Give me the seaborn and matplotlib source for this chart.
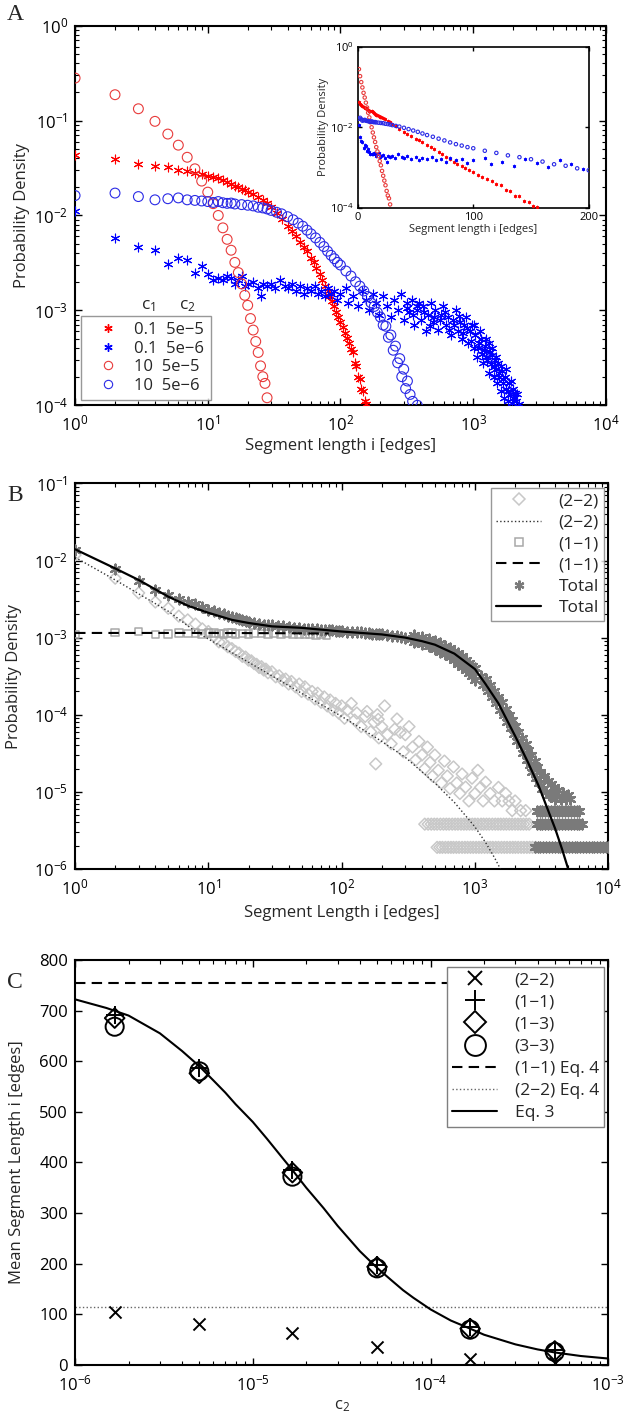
import numpy as np
import pandas as pd
import matplotlib as mpl
import matplotlib.pyplot as plt
from matplotlib.lines import Line2D
from matplotlib.ticker import NullLocator
import seaborn as sns

# ---------------- panel A : segment length distributions ----------------
a_legend_c1 = ['0.1', '0.1', '10', '10']
a_legend_c2 = ['5e\u22125', '5e\u22126', '5e\u22125', '5e\u22126']

# c1 = 0.1, c2 = 5e-5 (red asterisks)
a_rs_i = [1, 2, 3, 4, 5, 6, 7, 8, 9, 10, 11, 12, 13, 14, 15, 16, 17, 18, 19, 20,
          22, 24, 26, 28, 30, 33, 36, 40, 43, 46, 50, 53, 56, 60, 63, 66, 70, 73, 76, 80,
          83, 86, 90, 93, 96, 100, 104, 108, 112, 116, 120, 124, 128, 132, 136, 140, 144, 148, 152, 155]
a_rs_p = [0.043, 0.039, 0.035, 0.033, 0.032, 0.030, 0.0295, 0.028, 0.027, 0.026, 0.0255, 0.0247, 0.0236,
          0.0225, 0.0215, 0.0206, 0.0198, 0.019, 0.0184, 0.0178,
          0.0168, 0.0158, 0.0146, 0.0134, 0.0122, 0.0106, 0.0092, 0.0078, 0.0069, 0.0061, 0.0052, 0.0047,
          0.0042, 0.0036, 0.0032, 0.0028, 0.0024, 0.0021, 0.0018, 0.0016,
          0.0014, 0.00125, 0.0011, 0.00097, 0.00086, 0.00076, 0.00066, 0.00058, 0.00051, 0.00045,
          0.00039, 0.00036, 0.00028, 0.00026, 0.0002, 0.00019, 0.00015, 0.00014, 0.00011, 0.000102]

# c1 = 0.1, c2 = 5e-6 (blue asterisks)
a_bs_i = [1, 2, 3, 4, 5, 6, 7, 8, 9, 10, 11, 12, 13, 14, 15, 16, 17, 18, 19, 20,
          22, 24, 25, 26, 28, 30, 32, 35, 38, 40, 43, 46, 50, 53, 56, 60, 64, 68, 72, 76, 80,
          85, 90, 95, 100,
          110, 115, 125, 135, 145, 155, 165, 175, 185, 195, 210, 225, 240, 255, 270, 285, 300, 315, 330, 345,
          360, 375, 390, 405, 420, 440, 460, 480, 500, 520, 545, 570, 595, 620, 650, 680, 710, 740, 770, 800,
          830, 860, 890, 920, 950, 980, 1010, 1040, 1070, 1100, 1130, 1160, 1190, 1220, 1250, 1280, 1310,
          1340, 1370, 1400, 1430, 1460, 1490, 1520, 1550, 1580, 1610, 1640, 1670, 1700,
          1740, 1780, 1820, 1860, 1900, 1950, 2000, 2050, 2100, 2150, 2200,
          320, 350, 380, 430, 470, 510, 560, 610, 660, 720, 780, 840, 900, 960, 1020, 1080, 1140, 1200,
          1260, 1320, 1380, 1440, 1500, 1560, 1620, 1680, 1760, 1840, 1920, 2000, 2080]
a_bs_p = [0.0111, 0.0058, 0.0046, 0.0043, 0.0031, 0.0036, 0.0034, 0.0025, 0.0029, 0.0024, 0.0021, 0.0022,
          0.0021, 0.0023, 0.0022, 0.0019, 0.0021, 0.0023, 0.0018, 0.0019,
          0.0020, 0.0017, 0.0014, 0.0019, 0.0018, 0.0019, 0.0017, 0.0021, 0.0018, 0.0017,
          0.0019, 0.0016, 0.0018, 0.0015, 0.0017, 0.0016, 0.0018, 0.0015, 0.0016, 0.0014, 0.0017,
          0.0015, 0.0016, 0.0013, 0.0015,
          0.0017, 0.0012, 0.0014, 0.0011, 0.0016, 0.0013, 0.0010, 0.0015, 0.0012, 0.0009,
          0.0014, 0.0011, 0.00085, 0.0013, 0.0010, 0.0015, 0.0008, 0.0012, 0.00095, 0.0013,
          0.0007, 0.0010, 0.0012, 0.0008, 0.0011, 0.0006, 0.0009, 0.0012, 0.00075, 0.0010,
          0.00062, 0.0009, 0.0011, 0.0007, 0.00085, 0.00055, 0.0008, 0.0010, 0.0006, 0.00075,
          0.0005, 0.0007, 0.00085, 0.00045, 0.0006, 0.0007, 0.0004, 0.00055, 0.00032, 0.00045,
          0.0006, 0.00035, 0.00028, 0.00042, 0.0005, 0.0003, 0.00022, 0.00036, 0.00027, 0.0004,
          0.0002, 0.0003, 0.00024, 0.00017, 0.00028, 0.0002, 0.00014, 0.00023, 0.00017, 0.00012,
          0.0002, 0.00015, 0.00011, 0.00017, 0.00013, 0.000105, 0.00015, 0.00012, 0.00011, 0.00013, 0.000102,
          0.00105, 0.0009, 0.0011, 0.00095, 0.00068, 0.00085, 0.0008, 0.00095, 0.00062, 0.0007,
          0.00088, 0.00058, 0.00065, 0.00048, 0.0007, 0.0004, 0.0005, 0.00038, 0.00032, 0.00045,
          0.00034, 0.00025, 0.00032, 0.00022, 0.00026, 0.00019, 0.00024, 0.00014, 0.00018, 0.00012, 0.000135]

# c1 = 10, c2 = 5e-5 (red circles)
a_rc_i = list(range(1, 29))
a_rc_p = [0.28, 0.187, 0.133, 0.098, 0.072, 0.055, 0.041, 0.031, 0.023, 0.0176, 0.0133, 0.0100, 0.0074,
          0.0056, 0.0043, 0.0032, 0.0025, 0.0019, 0.00144, 0.00113, 0.00082, 0.00062, 0.00047, 0.00036,
          0.00026, 0.0002, 0.00017, 0.00012]

# c1 = 10, c2 = 5e-6 (blue circles)
a_bc_i = [1, 2, 3, 4, 5, 6, 7, 8, 9, 10, 11, 12, 13, 14, 15, 16, 18, 20, 22, 24, 26, 28, 30,
          33, 36, 40, 44, 48, 52, 56, 60, 65, 70, 75, 80, 85, 90, 95, 100,
          110, 120, 130, 140, 150, 160, 170, 180, 190, 200, 210, 220, 230, 240, 250, 260, 270, 280, 290,
          300, 310, 320, 335, 350, 380]
a_bc_p = [0.0162, 0.0172, 0.0158, 0.0146, 0.0150, 0.0153, 0.0146, 0.0144, 0.0142, 0.0140, 0.0137, 0.0140,
          0.0136, 0.0134, 0.0135, 0.0132, 0.0130, 0.0128, 0.0126, 0.0122, 0.0120, 0.0117, 0.0113,
          0.0108, 0.0104, 0.0097, 0.0090, 0.0083, 0.0077, 0.0070, 0.0064, 0.0058, 0.0052, 0.0047, 0.0042,
          0.0038, 0.0035, 0.0032, 0.0030,
          0.0026, 0.0023, 0.0020, 0.0018, 0.0016, 0.0014, 0.0012, 0.0011, 0.00095, 0.00085,
          0.0007, 0.00068, 0.00052, 0.00055, 0.00038, 0.00042, 0.00028, 0.00031, 0.0002, 0.00024,
          0.00015, 0.00018, 0.00013, 0.00011, 0.0001]

# ---------------- panel B : (2-2), (1-1) and total ----------------
b_dm_i = [1, 2, 3, 4, 5, 6, 7, 8, 9, 10, 11, 12, 13, 14, 15, 16, 17, 18, 19, 20, 21, 22, 23, 24, 25, 26,
          27, 28, 30, 32, 34, 36, 38, 40, 42, 45, 48, 50, 53, 56, 60, 63, 66, 70, 74, 78, 82, 86,
          90, 95, 100, 105, 110, 118, 125, 130, 140, 150, 155, 165, 175, 180, 185, 188, 190, 200, 210, 220,
          235, 250, 260, 275, 290, 300, 320, 340, 360, 380, 400, 420, 440, 460, 480, 500, 530, 560, 590, 620,
          650, 690, 730, 770, 800, 850, 900, 950, 1000, 1050, 1100, 1150, 1200, 1300, 1400, 1500, 1600,
          1700, 1800, 1900, 2000, 2200, 2400]
b_dm_p = [0.0118, 0.0059, 0.0038, 0.0029, 0.0024, 0.0019, 0.0017, 0.0015, 0.0013, 0.0012,
          0.00105, 0.00088, 0.00085, 0.00076, 0.00072, 0.00066, 0.00063, 0.00057, 0.00056, 0.00051,
          0.0005, 0.00046, 0.00045, 0.00041, 0.00042, 0.00038, 0.00039, 0.00035,
          0.00036, 0.00031, 0.00032, 0.00028, 0.00029, 0.00025, 0.00027, 0.00023, 0.00025, 0.0002,
          0.00023, 0.000185, 0.0002, 0.00016, 0.00019, 0.000145, 0.00017, 0.00013, 0.000155, 0.000115,
          0.00014, 0.000105, 0.00013, 0.00009, 0.000115, 0.00014, 0.000085, 0.000105, 0.00007, 0.000095,
          0.00011, 0.00006, 0.00008, 0.000023, 0.0001, 0.000087, 0.00005, 0.00007, 0.00013, 0.000055,
          0.000042, 0.000065, 0.000088, 0.000059, 0.000033, 0.000055, 0.00007, 0.000038, 0.000026, 0.000045,
          0.00003, 0.00002, 0.000038, 0.000024, 0.000016, 0.00003, 0.000019, 0.000013, 0.000025, 0.000016,
          0.000011, 0.000021, 0.000013, 0.0000095, 0.000017, 0.0000115, 0.0000076, 0.000015, 0.0000095,
          0.000019, 0.0000114, 0.0000076, 0.0000133, 0.0000095, 0.0000076, 0.0000114, 0.0000076,
          0.0000095, 0.0000076, 0.0000057, 0.0000076, 0.0000057, 0.0000057]

# single / double / triple count floors
b_floor_p = [1.9e-6, 3.8e-6, 5.7e-6]
b_dm_floor1_i = [520, 545, 570, 600, 630, 660, 690, 725, 760, 800, 840, 880, 925, 970, 1020, 1070, 1120,
                 1180, 1240, 1300, 1360, 1430, 1500, 1580, 1660, 1740, 1830, 1920, 2010, 2110, 2220, 2330,
                 2450, 2570, 2700, 2850]
b_dm_floor2_i = [420, 445, 470, 495, 520, 550, 580, 610, 640, 675, 710, 745, 785, 825, 865, 910, 955, 1000,
                 1050, 1110, 1160, 1220, 1280, 1350, 1420, 1490, 1560, 1640, 1720, 1810, 1900, 2000, 2100,
                 2200, 2310, 2430, 2550]

b_sq_i = [1, 2, 3, 4, 5, 6, 7, 8, 9, 10, 11, 12, 13, 14, 15, 16, 18, 20, 22, 25, 28, 31, 35, 39, 43,
          48, 53, 58, 64, 70, 77]
b_sq_p = [0.0011, 0.00116, 0.0012, 0.0011, 0.00112, 0.00114, 0.00113, 0.00114, 0.00112, 0.00115,
          0.00114, 0.00113, 0.00112, 0.00115, 0.00114, 0.00112, 0.00113, 0.00112, 0.00115, 0.00113,
          0.00112, 0.00114, 0.00111, 0.00113, 0.0011, 0.00112, 0.0011, 0.00111, 0.00109, 0.0011, 0.00108]

b_tot_i = [1, 2, 3, 4, 5, 6, 7, 8, 9, 10, 11, 12, 13, 14, 15, 16, 17, 18, 19, 20, 22, 24, 26, 28, 30,
           33, 36, 40, 44, 48, 52, 56, 60, 65, 70, 75, 80, 85, 90, 95, 100, 110, 120, 130, 140, 150,
           160, 170, 180, 190, 200, 220, 240, 260, 280, 300, 330, 360, 400, 440, 480, 520, 560, 600,
           650, 700, 750, 800, 850, 900, 950,
           350, 400, 450, 500, 550, 600, 650, 700, 750, 800, 850, 900, 950,
           350, 400, 450, 500, 550, 600, 650, 700, 750, 800, 850, 900, 950,
           1000, 1000, 1100, 1150, 1200, 1250, 1300, 1350, 1400, 1450, 1500, 1550, 1600, 1650, 1700, 1750,
           1800, 1850, 1900, 1950, 2000, 2050, 2100, 2200, 2250, 2300, 2400, 2450, 2500, 2600, 2650, 2700,
           2800, 2850, 2900, 3000, 3100, 3200, 3300, 3400, 3500, 3600, 3700, 3800, 3900, 4000, 4200, 4400,
           4600, 4800, 5000, 5200]
b_tot_p = [0.0138, 0.0077, 0.0054, 0.0042, 0.0036, 0.0032, 0.0029, 0.0027, 0.0025, 0.0023, 0.0022, 0.0021,
           0.002, 0.0019, 0.00185, 0.0018, 0.00175, 0.0017, 0.00165, 0.0016, 0.00155, 0.0015, 0.00148,
           0.00146, 0.00144, 0.00142, 0.0014, 0.00137, 0.00135, 0.00133, 0.00131, 0.0013, 0.00129, 0.00128,
           0.00127, 0.00126, 0.00125, 0.00124, 0.00123, 0.00122, 0.00122, 0.0012, 0.00119, 0.00118, 0.00117,
           0.00115, 0.00114, 0.00113, 0.00112, 0.00111, 0.0011, 0.00108, 0.00106, 0.00104, 0.00102, 0.001,
           0.00097, 0.00094, 0.0009, 0.00085, 0.0008, 0.00075, 0.0007, 0.00066, 0.00062, 0.00058, 0.00053,
           0.00048, 0.00044, 0.0004, 0.00037,
           0.00107, 0.00102, 0.00097, 0.00091, 0.00085, 0.00079, 0.00073, 0.00068, 0.00063, 0.00057, 0.00052,
           0.00047, 0.00043,
           0.00087, 0.00082, 0.00077, 0.00071, 0.00066, 0.00061, 0.00056, 0.00051, 0.00046, 0.00042, 0.00038,
           0.00035, 0.00032,
           4.0e-4, 2.8e-4, 3.2e-4, 2.4e-4, 2.9e-4, 2.0e-4, 2.4e-4, 1.7e-4, 2.0e-4, 1.4e-4, 1.7e-4, 1.15e-4,
           1.45e-4, 1.0e-4, 1.2e-4, 8e-5, 1.0e-4, 6.8e-5, 8.5e-5, 5.6e-5, 7.2e-5, 4.6e-5, 6.0e-5, 4.0e-5,
           5.0e-5, 3.2e-5, 4.2e-5, 2.6e-5, 3.5e-5, 2.2e-5, 3.0e-5, 1.8e-5, 2.5e-5, 1.5e-5, 2.1e-5, 1.3e-5,
           1.8e-5, 1.1e-5, 1.6e-5, 1.0e-5, 1.4e-5, 9e-6, 1.25e-5, 9e-6, 1.15e-5, 8e-6, 1.05e-5, 8e-6,
           9.5e-6, 8e-6, 9e-6, 8e-6]
b_tot_floor1_i = [2800, 2950, 3100, 3260, 3430, 3600, 3780, 3970, 4170, 4380, 4600, 4830, 5070, 5320, 5590,
                  5870, 6160, 6470, 6790, 7130, 7490, 7860, 8250, 8670, 9100, 9550, 10000]
b_tot_floor2_i = [2900, 3050, 3200, 3360, 3530, 3710, 3900, 4100, 4300, 4520, 4750, 4990, 5240, 5500, 5780,
                  6070, 6400]
b_tot_floor3_i = [2900, 3050, 3200, 3360, 3530, 3710, 3900, 4100, 4300, 4520, 4750, 4990, 5240, 5500, 5780,
                  6000]

# model curves
b_fit22_i = [1, 2, 3, 5, 8, 10, 20, 50, 100, 200, 300, 500, 700, 1000, 1200, 1400, 1550]
b_fit22_p = [0.011, 0.0056, 0.0037, 0.0022, 1.2e-3, 9.6e-4, 4.8e-4, 1.9e-4, 9.5e-5, 4.5e-5, 2.8e-5, 1.3e-5,
             7.3e-6, 3.5e-6, 2.2e-6, 1.4e-6, 1.0e-6]
b_fit11_i = [1, 10, 40, 80]
b_fit11_p = [1.15e-3, 1.15e-3, 1.14e-3, 1.13e-3]
b_fittot_i = [1, 2, 3, 5, 7, 10, 15, 20, 30, 50, 100, 200, 300, 400, 500, 700, 1000, 1200, 1500, 2000, 2500,
              3000, 3500, 4000, 4500, 5000]
b_fittot_p = [0.014, 0.0079, 0.0056, 0.0034, 0.0026, 0.0021, 0.0017, 0.00155, 0.0014, 0.00134, 0.0012, 0.0011,
              0.001, 0.0009, 0.00081, 0.00062, 0.00039, 0.00025, 0.00014, 5.3e-5, 2.4e-5, 1.2e-5, 6e-6, 3.3e-6,
              1.8e-6, 1e-6]
b_labels = ['(2\u22122)', '(2\u22122)', '(1\u22121)', '(1\u22121)', 'Total', 'Total']

# ---------------- panel C : mean segment length vs c2 ----------------
c_c2 = [1.67e-6, 5e-6, 1.67e-5, 5e-5, 1.67e-4, 5e-4]
c_mean_22 = [105, 82, 64, 36, 13, 5]
c_mean_11 = [691, 586, 385, 197, 76, 30]
c_mean_13 = [685, 576, 380, 194, 72, 28]
c_mean_33 = [668, 580, 372, 191, 70, 26]
c_eq4_11 = 755
c_eq4_22 = 115
c_eq3_c2 = [1e-6, 1.5e-6, 2e-6, 3e-6, 4e-6, 5e-6, 6e-6, 7e-6, 8e-6, 1e-5, 1.2e-5, 1.5e-5, 1.67e-5, 2e-5,
            2.5e-5, 3e-5, 4e-5, 5e-5, 6e-5, 7e-5, 8e-5, 1e-4, 1.3e-4, 1.67e-4, 2e-4, 3e-4, 4e-4, 5e-4,
            7e-4, 1e-3]
c_eq3_mean = [722, 705, 690, 655, 620, 590, 562, 538, 515, 480, 447, 405, 385, 350, 310, 275, 225, 192, 168,
              148, 133, 110, 88, 72, 60, 41, 31, 25, 18, 13]
c_labels = ['(2\u22122)', '(1\u22121)', '(1\u22123)', '(3\u22123)', '(1\u22121) Eq. 4', '(2\u22122) Eq. 4', 'Eq. 3']

STAR = (6, 2, 0)

sns.set_style("ticks")
plt.rcParams['font.family'] = ['Open Sans', 'DejaVu Sans']
plt.rcParams['mathtext.default'] = 'regular'


def matlab_box(ax, size=12):
    ax.tick_params(which='both', direction='in', top=True, right=True, labelsize=size, colors='k')
    ax.tick_params(which='major', length=5, width=1.0)
    ax.tick_params(which='minor', length=3, width=0.8)
    ax.tick_params(axis='x', which='both', pad=7)
    ax.tick_params(axis='y', which='both', pad=5)
    for s in ax.spines.values():
        s.set_visible(True)
        s.set_linewidth(1.5)
        s.set_color('k')


def stars(ax, x, y, color, s, lw):
    sns.scatterplot(x=x, y=y, ax=ax, marker=STAR, s=s, color=color, edgecolor=None,
                    linewidth=lw, legend=False, zorder=3)


def rings(ax, x, y, color, s, lw, marker='o'):
    sns.scatterplot(x=x, y=y, ax=ax, marker=marker, s=s, color=color, facecolor='none',
                    edgecolor=color, linewidth=lw, legend=False, zorder=3)


def draw_a(ax, k):
    stars(ax, a_rs_i, a_rs_p, '#ff0000', 40 * k, 0.8 * max(k, 0.6))
    stars(ax, a_bs_i, a_bs_p, '#0000ff', 40 * k, 0.8 * max(k, 0.6))
    rings(ax, a_rc_i, a_rc_p, '#e83a3a', 50 * k, 0.8)
    rings(ax, a_bc_i, a_bc_p, '#2a2ae6', 50 * k, 0.8)


fig = plt.figure(figsize=(6.31, 14.22), dpi=100)

# ---- A ----
axA = fig.add_axes([0.119, 0.715, 0.841, 0.267])
axA.set_xscale('log')
axA.set_yscale('log')
draw_a(axA, 1.0)
axA.set_xlim(1, 1e4)
axA.set_ylim(1e-4, 1)
matlab_box(axA)
axA.set_xlabel('Segment length i [edges]', fontsize=12)
axA.set_ylabel('Probability Density', fontsize=12)
axA.xaxis.set_label_coords(0.5, -0.085)
axA.yaxis.set_label_coords(-0.085, 0.5)
hA = [Line2D([], [], ls='none', marker=STAR, color='#ff0000', ms=6, mew=1),
      Line2D([], [], ls='none', marker=STAR, color='#0000ff', ms=6, mew=1),
      Line2D([], [], ls='none', marker='o', mfc='none', mec='#e83a3a', ms=6, mew=0.8),
      Line2D([], [], ls='none', marker='o', mfc='none', mec='#2a2ae6', ms=6, mew=0.8)]
labA = ['%s  %s' % (a, b) for a, b in zip(a_legend_c1, a_legend_c2)]
legA = axA.legend(hA, labA, loc='lower left', bbox_to_anchor=(0.011, 0.013), fontsize=12,
                  frameon=True, fancybox=False, handlelength=2.4, handletextpad=0.4,
                  labelspacing=0.15, borderpad=0.4, borderaxespad=0)
legA.get_frame().set_edgecolor('#7f7f7f')
legA.get_frame().set_linewidth(1.0)
axA.text(0.125, 0.262, 'c$_1$', transform=axA.transAxes, fontsize=12.5, va='center')
axA.text(0.195, 0.262, 'c$_2$', transform=axA.transAxes, fontsize=12.5, va='center')

# inset of A (linear x)
axI = fig.add_axes([0.567, 0.854, 0.366, 0.113])
axI.set_yscale('log')
draw_a(axI, 0.12)
axI.set_xlim(0, 200)
axI.set_ylim(1e-4, 1)
matlab_box(axI, size=8)
axI.tick_params(which='major', length=3, pad=3)
axI.set_xticks([0, 100, 200])
axI.set_yticks([1e-4, 1e-2, 1])
axI.yaxis.set_minor_locator(NullLocator())
axI.xaxis.set_minor_locator(NullLocator())
for s in axI.spines.values():
    s.set_linewidth(1.2)
axI.set_xlabel('Segment length i [edges]', fontsize=8, labelpad=1)
axI.set_ylabel('Probability Density', fontsize=8, labelpad=1)

# ---- B ----
axB = fig.add_axes([0.119, 0.389, 0.845, 0.271])
axB.set_xscale('log')
axB.set_yscale('log')
c_dm, c_sq, c_tot = '#c8c8c8', '#a8a8a8', '#7a7a7a'
rings(axB, b_dm_i, b_dm_p, c_dm, 36, 1.1, marker='D')
rings(axB, b_dm_floor1_i, [b_floor_p[0]] * len(b_dm_floor1_i), c_dm, 36, 1.1, marker='D')
rings(axB, b_dm_floor2_i, [b_floor_p[1]] * len(b_dm_floor2_i), c_dm, 36, 1.1, marker='D')
sns.lineplot(x=b_fit22_i, y=b_fit22_p, ax=axB, color='#333333', linestyle=':', linewidth=1.0,
             estimator=None, sort=False, zorder=4)
rings(axB, b_sq_i, b_sq_p, c_sq, 30, 1.1, marker='s')
sns.lineplot(x=b_fit11_i, y=b_fit11_p, ax=axB, color='k', linestyle=(0, (5, 3)), linewidth=1.5,
             estimator=None, sort=False, zorder=4)
stars(axB, b_tot_i, b_tot_p, c_tot, 50, 1.6)
stars(axB, b_tot_floor1_i, [b_floor_p[0]] * len(b_tot_floor1_i), c_tot, 50, 1.6)
stars(axB, b_tot_floor2_i, [b_floor_p[1]] * len(b_tot_floor2_i), c_tot, 50, 1.6)
stars(axB, b_tot_floor3_i, [b_floor_p[2]] * len(b_tot_floor3_i), c_tot, 50, 1.6)
sns.lineplot(x=b_fittot_i, y=b_fittot_p, ax=axB, color='k', linewidth=1.6, estimator=None, sort=False,
             zorder=5)
axB.set_xlim(1, 1e4)
axB.set_ylim(1e-6, 1e-1)
matlab_box(axB)
axB.set_xlabel('Segment Length i [edges]', fontsize=12)
axB.set_ylabel('Probability Density', fontsize=12)
axB.xaxis.set_label_coords(0.5, -0.093)
axB.yaxis.set_label_coords(-0.099, 0.5)
hB = [Line2D([], [], ls='none', marker='D', mfc='none', mec=c_dm, ms=6, mew=1.1),
      Line2D([], [], color='#333333', ls=':', lw=1.0),
      Line2D([], [], ls='none', marker='s', mfc='none', mec=c_sq, ms=5.5, mew=1.1),
      Line2D([], [], color='k', ls=(0, (5, 3)), lw=1.5),
      Line2D([], [], ls='none', marker=STAR, color=c_tot, ms=7, mew=1.6),
      Line2D([], [], color='k', lw=1.6)]
legB = axB.legend(hB, b_labels, loc='upper right', bbox_to_anchor=(0.992, 0.988), fontsize=12.5,
                  frameon=True, fancybox=False, handlelength=2.6, handletextpad=1.0,
                  labelspacing=0.3, borderpad=0.3, borderaxespad=0)
legB.get_frame().set_edgecolor('#7f7f7f')
legB.get_frame().set_linewidth(1.0)

# ---- C ----
axC = fig.add_axes([0.119, 0.040, 0.845, 0.285])
axC.set_xscale('log')
axC.axhline(c_eq4_11, color='k', linestyle=(0, (5, 3)), linewidth=1.5, zorder=2)
axC.axhline(c_eq4_22, color='#666666', linestyle=':', linewidth=1.0, zorder=2)
sns.lineplot(x=c_eq3_c2, y=c_eq3_mean, ax=axC, color='k', linewidth=1.5, estimator=None, sort=False,
             zorder=2)
sns.scatterplot(x=c_c2, y=c_mean_22, ax=axC, marker='x', s=75, color='k', edgecolor=None,
                linewidth=1.4, legend=False, zorder=3)
sns.scatterplot(x=c_c2, y=c_mean_11, ax=axC, marker='+', s=170, color='k', edgecolor=None,
                linewidth=1.4, legend=False, zorder=3)
rings(axC, c_c2, c_mean_13, 'k', 100, 1.4, marker='D')
rings(axC, c_c2, c_mean_33, 'k', 170, 1.4, marker='o')
axC.set_xlim(1e-6, 1e-3)
axC.set_ylim(0, 800)
axC.set_yticks(np.arange(0, 801, 100))
matlab_box(axC)
axC.set_xlabel('c$_2$', fontsize=12)
axC.set_ylabel('Mean Segment Length i [edges]', fontsize=12)
axC.xaxis.set_label_coords(0.5, -0.081)
axC.yaxis.set_label_coords(-0.094, 0.5)
hC = [Line2D([], [], ls='none', marker='x', color='k', ms=10, mew=1.4),
      Line2D([], [], ls='none', marker='+', color='k', ms=15, mew=1.4),
      Line2D([], [], ls='none', marker='D', mfc='none', mec='k', ms=11, mew=1.4),
      Line2D([], [], ls='none', marker='o', mfc='none', mec='k', ms=15, mew=1.4),
      Line2D([], [], color='k', ls=(0, (5, 3)), lw=1.5),
      Line2D([], [], color='#666666', ls=':', lw=1.0),
      Line2D([], [], color='k', lw=1.5)]
legC = axC.legend(hC, c_labels, loc='upper right', bbox_to_anchor=(0.992, 0.983), fontsize=12.5,
                  frameon=True, fancybox=False, handlelength=2.6, handletextpad=1.0,
                  labelspacing=0.35, borderpad=0.3, borderaxespad=0, facecolor='white', framealpha=1)
legC.get_frame().set_edgecolor('#7f7f7f')
legC.get_frame().set_linewidth(1.0)

# panel letters
for lab, yy in [('A', 1 - 15 / 1422), ('B', 1 - 495 / 1422), ('C', 1 - 983 / 1422)]:
    fig.text(0.024, yy, lab, fontsize=17, family=['Liberation Serif', 'DejaVu Serif'],
             ha='center', va='center')

fig.savefig('out.png', dpi=100)
